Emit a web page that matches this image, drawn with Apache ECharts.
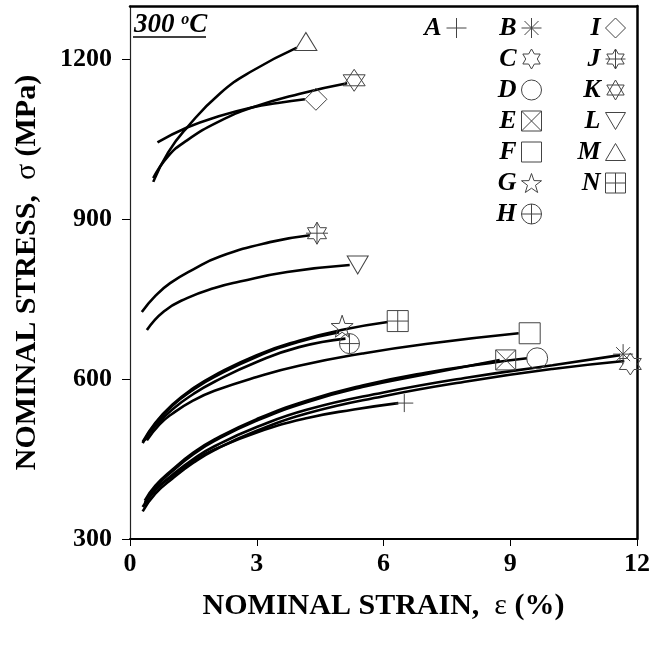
<!DOCTYPE html>
<html>
<head>
<meta charset="utf-8">
<script src="https://cdn.jsdelivr.net/npm/echarts@6/dist/echarts.min.js"></script>
<style>
  html, body { margin: 0; padding: 0; background: #fff; }
  #main { width: 664px; height: 647px; }
</style>
</head>
<body>
<div id="main"></div>
<script>
// nominal strain (%) / nominal stress (MPa)
var curveA = [[0.35, 366], [0.6, 392], [1, 418], [1.5, 446], [2, 468], [3, 500], [4.2, 527], [5.3, 543], [6.35, 555]];
var curveB = [[0.3, 360], [0.6, 392], [1, 420], [1.5, 450], [2, 474], [3, 510], [4.2, 543], [6, 575], [8, 603], [10, 626], [11.6, 645]];
var curveC = [[0.3, 352], [0.6, 385], [1, 413], [1.5, 443], [2, 467], [3, 503], [4.2, 536], [6, 568], [8, 596], [10, 619], [11.7, 634]];
var curveD = [[0.35, 372], [0.6, 400], [1, 430], [1.5, 462], [2, 487], [3, 525], [4.2, 560], [5.5, 588], [7, 612], [8.5, 630], [9.4, 639]];
var curveE = [[0.35, 368], [0.6, 397], [1, 427], [1.5, 459], [2, 484], [3, 522], [4.2, 557], [5.5, 585], [7, 609], [8.75, 636]];
var curveF = [[0.4, 485], [0.7, 515], [1, 535], [1.5, 560], [2, 578], [3, 604], [4, 625], [5.5, 648], [7, 666], [9.2, 686]];
var curveG = [[0.3, 480], [0.6, 516], [1, 550], [1.5, 580], [2, 604], [3, 642], [4, 670], [4.95, 688]];
var curveH = [[0.35, 485], [0.6, 512], [1, 543], [1.5, 572], [2, 595], [3, 632], [4, 660], [5.1, 676]];
var curveI = [[0.65, 1044], [1.35, 1072], [2.1, 1093], [2.91, 1110], [3.5, 1118], [4.14, 1125]];
var curveJ = [[0.28, 726], [0.6, 756], [0.95, 780], [1.5, 806], [2.13, 830], [3.31, 857], [4.26, 870]];
var curveK = [[0.55, 977], [0.9, 1018], [1.35, 1048], [2.1, 1083], [2.91, 1110], [4, 1135], [5.14, 1155]];
var curveL = [[0.4, 692], [0.8, 727], [1.35, 752], [2, 771], [2.6, 783], [3.72, 801], [5.2, 814]];
var curveM = [[0.55, 970], [0.9, 1025], [1.35, 1072], [2.13, 1136], [2.91, 1179], [3.95, 1222]];
var curveN = [[0.3, 482], [0.6, 518], [1, 552], [1.5, 583], [2, 607], [3, 645], [4, 672], [5, 692], [6.1, 707]];

var names = ['A', 'B', 'C', 'D', 'E', 'F', 'G', 'H', 'I', 'J', 'K', 'L', 'M', 'N'];
var curves = {
    A: curveA, B: curveB, C: curveC, D: curveD, E: curveE, F: curveF, G: curveG,
    H: curveH, I: curveI, J: curveJ, K: curveK, L: curveL, M: curveM, N: curveN
};

var SERIF = '"Liberation Serif", "Times New Roman", serif';
var HEX = 'M10 0 L12.89 5 L18.66 5 L15.77 10 L18.66 15 L12.89 15 L10 20 L7.11 15 L1.34 15 L4.23 10 L1.34 5 L7.11 5 Z';

// end-of-curve markers
var marks = {
    A: { icon: 'path://M10 0 L10 20 M0 10 L20 10', size: 18, offset: [6, 0] },
    B: { icon: 'path://M10 0 L10 20 M0 10 L20 10 M3 3 L17 17 M17 3 L3 17', size: 20, offset: [3, -1] },
    C: { icon: 'path://' + HEX, size: 22, offset: [6, 3] },
    D: { icon: 'circle', size: 21, offset: [10, 0] },
    E: { icon: 'path://M0 0 L20 0 L20 20 L0 20 Z M0 0 L20 20 M20 0 L0 20', size: 20, offset: [6, 0] },
    F: { icon: 'path://M0 0 L20 0 L20 20 L0 20 Z', size: 21, offset: [11, 0] },
    G: { icon: 'path://M10 0 L12.35 6.76 L19.51 6.91 L13.8 11.24 L15.88 18.09 L10 14 L4.12 18.09 L6.2 11.24 L0.49 6.91 L7.65 6.76 Z', size: 22, offset: [3, -6] },
    H: { icon: 'path://M0 10 A10 10 0 1 1 20 10 A10 10 0 1 1 0 10 Z M10 0 L10 20 M0 10 L20 10', size: 20, offset: [4, 5] },
    I: { icon: 'path://M10 0 L20 10 L10 20 L0 10 Z', size: 22, offset: [11, 0] },
    J: { icon: 'path://' + HEX + ' M10 0 L10 20 M0 10 L20 10', size: 22, offset: [7, -2] },
    K: { icon: 'path://M10 0 L18.66 15 L1.34 15 Z M10 20 L1.34 5 L18.66 5 Z', size: 22, offset: [7, -3] },
    L: { icon: 'path://M0 0 L20 0 L10 17 Z', size: [21, 18], offset: [8, 0] },
    M: { icon: 'path://M10 0 L20 17 L0 17 Z', size: [22, 18], offset: [9, -6] },
    N: { icon: 'path://M0 0 L20 0 L20 20 L0 20 Z M10 0 L10 20 M0 10 L20 10', size: 21, offset: [10, -1] }
};

var myChart = echarts.init(document.getElementById('main'));

var series = names.map(function (n) {
    var pts = curves[n];
    var m = marks[n];
    return {
        name: n,
        type: 'line',
        data: pts,
        smooth: 0.5,
        showAllSymbol: true,
        symbol: function (value, params) {
            return params.dataIndex === pts.length - 1 ? m.icon : 'none';
        },
        symbolSize: m.size,
        symbolOffset: m.offset,
        color: '#000',
        lineStyle: { color: '#000', width: 2.6 },
        itemStyle: { color: 'rgba(255,255,255,0)', borderColor: '#444', borderWidth: 1 },
        emphasis: { disabled: true }
    };
});

function legendOf(list, right) {
    return {
        orient: 'vertical',
        right: right,
        top: 10,
        align: 'right',
        itemWidth: 20,
        itemHeight: 20,
        itemGap: 5,
        selectedMode: false,
        data: list.map(function (n) { return { name: n, icon: marks[n].icon }; }),
        itemStyle: { color: 'rgba(255,255,255,0)', borderColor: '#444', borderWidth: 1 },
        textStyle: {
            fontFamily: SERIF, fontWeight: 'bold', fontStyle: 'italic',
            fontSize: 26, color: '#000'
        }
    };
}

var boldText = { fontFamily: SERIF, fontWeight: 'bold', fontSize: 30, color: '#000' };
var greekText = { fontFamily: SERIF, fontWeight: 'normal', fontSize: 30, color: '#000' };
var tickText = { fontFamily: SERIF, fontWeight: 'bold', fontSize: 26, color: '#000' };

option = {
    animation: false,
    backgroundColor: '#fff',
    title: {
        text: '{n|300 }{s|o}{n|C}',
        left: 129,
        top: 7,
        textStyle: {
            rich: {
                n: { fontFamily: SERIF, fontWeight: 'bold', fontStyle: 'italic', fontSize: 27, color: '#000' },
                s: { fontFamily: SERIF, fontWeight: 'bold', fontStyle: 'italic', fontSize: 16, color: '#000', verticalAlign: 'top' }
            }
        }
    },
    graphic: [{
        type: 'line',
        shape: { x1: 133, y1: 37, x2: 206, y2: 37 },
        style: { stroke: '#000', lineWidth: 1.5 }
    }],
    legend: [
        legendOf(['A'], 192),
        legendOf(['B', 'C', 'D', 'E', 'F', 'G', 'H'], 117),
        legendOf(['I', 'J', 'K', 'L', 'M', 'N'], 33)
    ],
    grid: { left: 130, right: 27, top: 6, bottom: 108, outerBoundsMode: 'none' },
    xAxis: [{
        type: 'value',
        min: 0,
        max: 12,
        interval: 3,
        name: '{b|NOMINAL STRAIN,  }{g|ε}{b| (%)}',
        nameLocation: 'middle',
        nameGap: 52,
        nameTextStyle: { rich: { b: boldText, g: greekText } },
        axisLine: { show: true, onZero: false, lineStyle: { color: '#000', width: 2 } },
        axisTick: { show: true, length: 7, lineStyle: { color: '#000', width: 1 } },
        axisLabel: Object.assign({ show: true, margin: 12 }, tickText),
        splitLine: { show: false }
    }, {
        type: 'value',
        position: 'top',
        min: 0,
        max: 12,
        axisLine: { show: true, onZero: false, lineStyle: { color: '#000', width: 2.5 } },
        axisTick: { show: false },
        axisLabel: { show: false },
        splitLine: { show: false }
    }],
    yAxis: [{
        type: 'value',
        min: 300,
        max: 1300,
        interval: 300,
        name: '{b|NOMINAL STRESS,  }{g|σ}{b| (MPa)}',
        nameLocation: 'middle',
        nameGap: 88,
        nameTextStyle: { rich: { b: boldText, g: greekText } },
        axisLine: { show: true, onZero: false, lineStyle: { color: '#222', width: 1.2 } },
        axisTick: { show: true, length: 8, lineStyle: { color: '#000', width: 1 } },
        axisLabel: Object.assign({
            show: true, margin: 18, showMaxLabel: false,
            formatter: function (v) { return String(v); }
        }, tickText),
        splitLine: { show: false }
    }, {
        type: 'value',
        position: 'right',
        min: 300,
        max: 1300,
        axisLine: { show: true, onZero: false, lineStyle: { color: '#000', width: 2.5 } },
        axisTick: { show: false },
        axisLabel: { show: false },
        splitLine: { show: false }
    }],
    series: series
};
myChart.setOption(option);
</script>
</body>
</html>
